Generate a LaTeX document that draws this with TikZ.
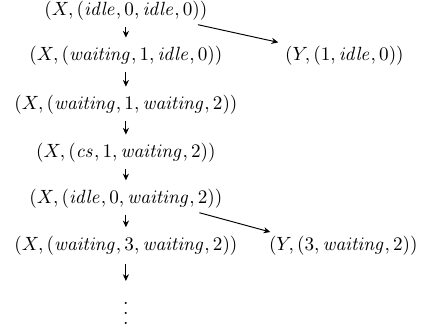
\documentclass[tikz,border=0pt]{standalone}
\usepackage{amsmath}
\usepackage{tikz}
\usetikzlibrary{arrows.meta, positioning}

\newcommand{\moredots}{\vbox{\baselineskip=5.2pt \lineskiplimit=0pt \hbox{.}\hbox{.}\hbox{.}}}

\begin{document}
\begin{tikzpicture}[
        state/.style={
            inner sep=2pt,
            font=\fontsize{10.25}{12}\selectfont
          },
        arr/.style={-{Stealth[length=3.5pt,width=3.2pt]}, line width=0.5pt, shorten >=2.5pt, shorten <=1pt},
        jump/.style={-{Stealth[length=3.5pt,width=3.2pt]}, line width=0.5pt}
      ]
      \useasboundingbox (0,0) rectangle (7.725,-6.019);

      % left column: process X
      \node[state] (x1) at (2.31,-0.20) {$(X,(\mathit{idle},0,\mathit{idle},0))$};
      \node[state] (x2) at (2.31,-1.03) {$(X,(\mathit{waiting},1,\mathit{idle},0))$};
      \node[state] (x3) at (2.31,-1.93) {$(X,(\mathit{waiting},1,\mathit{waiting},2))$};
      \node[state] (x4) at (2.31,-2.81) {$(X,(\mathit{cs},1,\mathit{waiting},2))$};
      \node[state] (x5) at (2.31,-3.65) {$(X,(\mathit{idle},0,\mathit{waiting},2))$};
      \node[state] (x6) at (2.31,-4.51) {$(X,(\mathit{waiting},3,\mathit{waiting},2))$};
      \node[state] (more) at (2.31,-5.75) {\moredots};

      % right column: process Y
      \node[state] (y1) at (6.32,-1.03) {$(Y,(1,\mathit{idle},0))$};
      \node[state] (y2) at (6.30,-4.51) {$(Y,(3,\mathit{waiting},2))$};

      \draw[arr] (x1) -- (x2);
      \draw[arr] (x2) -- (x3);
      \draw[arr] (x3) -- (x4);
      \draw[arr] (x4) -- (x5);
      \draw[arr] (x5) -- (x6);
      \draw[arr, shorten <=2.5pt, shorten >=9pt] (x6) -- (more);

      \draw[jump] ([xshift=-0.25cm]x1.south east) -- ([xshift=-0.05cm]y1.north west);
      \draw[jump] ([xshift=-0.5cm]x5.south east) -- ([xshift=0.1cm]y2.north west);
    \end{tikzpicture}
\end{document}
